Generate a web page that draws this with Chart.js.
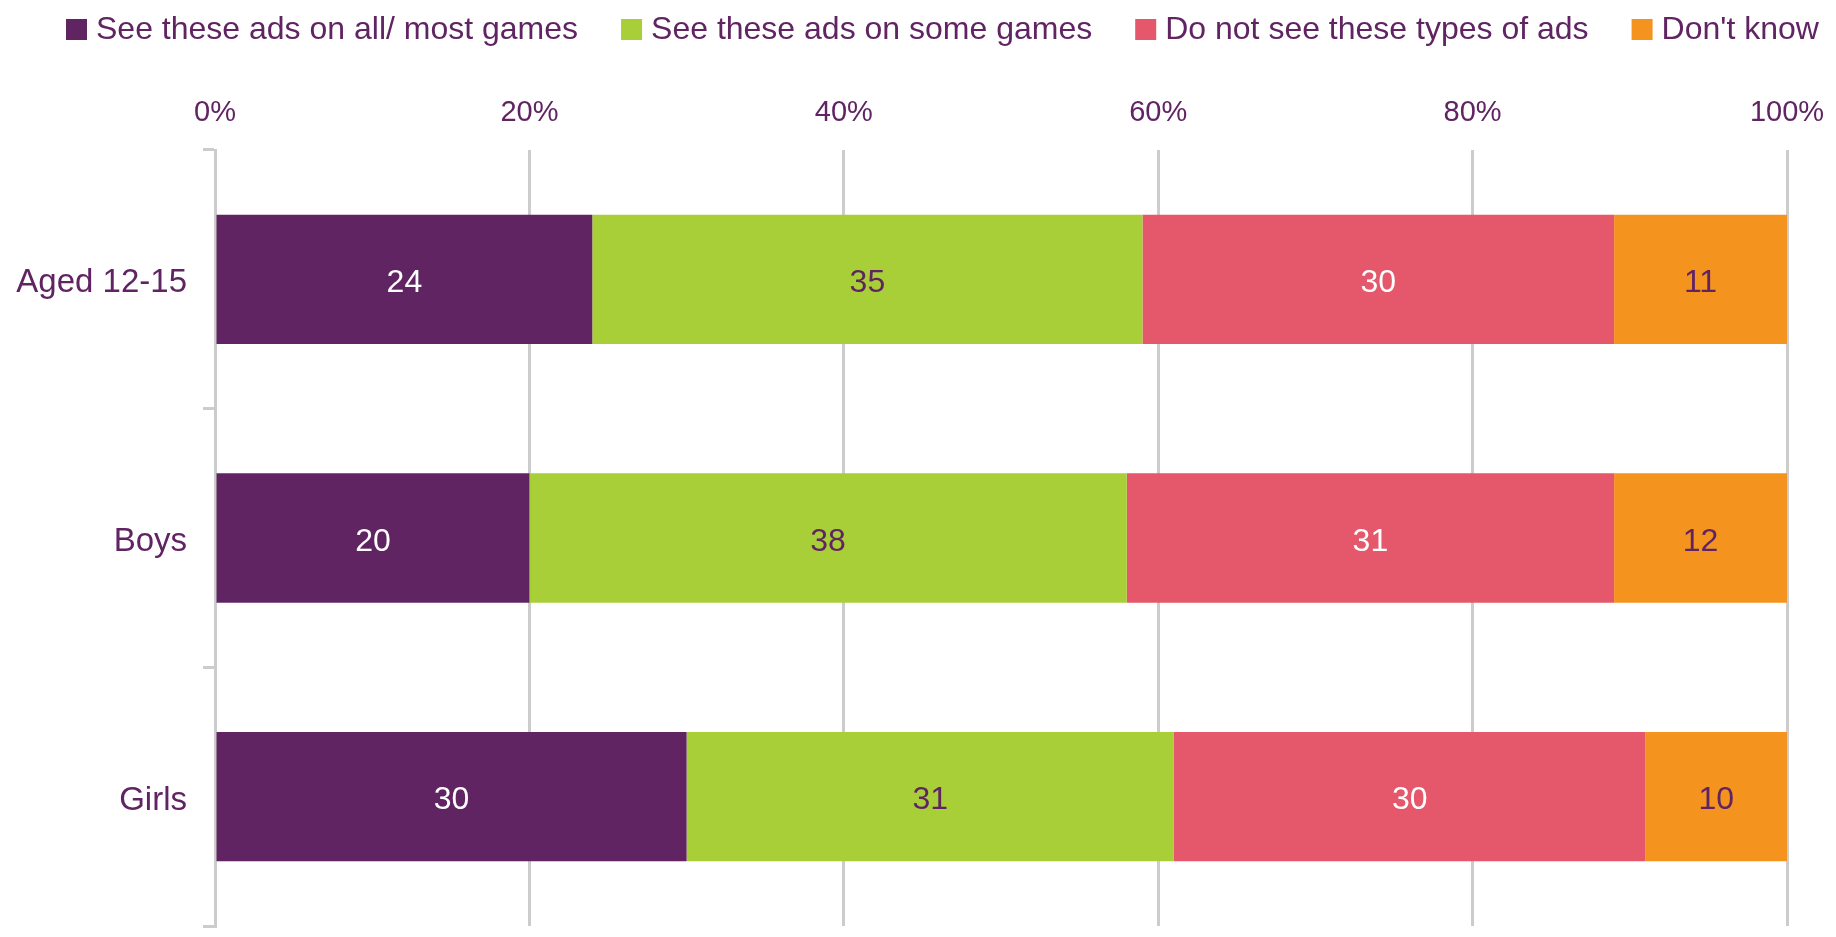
<!DOCTYPE html>
<html>
<head>
<meta charset="utf-8">
<title>Ads seen in games</title>
<script src="https://cdn.jsdelivr.net/npm/chart.js@4.4.1/dist/chart.umd.min.js"></script>
<style>
    html, body { margin: 0; padding: 0; background: #ffffff; }
    #adsChart { display: block; }
</style>
</head>
<body>
<canvas id="adsChart" width="1836" height="937"></canvas>
<script>
/* ── DATA ────────────────────────────────────────────────── */
const groups = ['Aged 12-15', 'Boys', 'Girls'];
const seriesNames = [
    'See these ads on all/ most games',
    'See these ads on some games',
    'Do not see these types of ads',
    "Don't know"
];
const allMost  = [24, 20, 30];
const someGames = [35, 38, 31];
const notSeen  = [30, 31, 30];
const dontKnow = [11, 12, 10];
const xTicks   = [0, 20, 40, 60, 80, 100];

/* ── STYLE ───────────────────────────────────────────────── */
const FONT = "'Liberation Sans', Arial, sans-serif";
const PURPLE = '#612463';
const GRID = '#cccccc';
const SERIES_COLORS = ['#612463', '#a8cf38', '#e5576a', '#f5931f'];
const VALUE_COLORS  = ['#ffffff', PURPLE, '#ffffff', PURPLE];

/* ── LEGEND ACROSS THE TOP ───────────────────────────────── */
const topLegend = {
    id: 'topLegend',
    afterDraw(chart) {
        const ctx = chart.ctx;
        ctx.save();
        ctx.font = `32px ${FONT}`;
        ctx.textBaseline = 'middle';
        let x = 66;
        chart.data.datasets.forEach(ds => {
            ctx.fillStyle = ds.backgroundColor;
            ctx.fillRect(x, 19, 21, 21);
            ctx.fillStyle = PURPLE;
            ctx.fillText(ds.label, x + 30, 30);
            x += 30 + ctx.measureText(ds.label).width + 43;
        });
        ctx.restore();
    }
};

/* ── VALUE IN THE MIDDLE OF EACH SEGMENT ─────────────────── */
const barValues = {
    id: 'barValues',
    afterDatasetsDraw(chart) {
        const { ctx, chartArea } = chart;
        ctx.save();
        ctx.font = `32px ${FONT}`;
        ctx.textAlign = 'center';
        ctx.textBaseline = 'middle';
        chart.data.datasets.forEach((ds, i) => {
            chart.getDatasetMeta(i).data.forEach((bar, j) => {
                // segments that run past 100% are clipped, so centre on the visible part
                const l = Math.max(Math.min(bar.x, bar.base), chartArea.left);
                const r = Math.min(Math.max(bar.x, bar.base), chartArea.right);
                ctx.fillStyle = VALUE_COLORS[i];
                ctx.fillText(String(ds.data[j]), (l + r) / 2, bar.y + 4);
            });
        });
        ctx.restore();
    }
};

const seriesData = [allMost, someGames, notSeen, dontKnow];

new Chart(document.getElementById('adsChart').getContext('2d'), {
    type: 'bar',
    data: {
        labels: groups,
        datasets: seriesNames.map((name, i) => ({
            label: name,
            data: seriesData[i],
            backgroundColor: SERIES_COLORS[i],
            borderWidth: 0,
            categoryPercentage: 1,
            barPercentage: 0.5
        }))
    },
    options: {
        indexAxis: 'y',
        responsive: false,
        animation: false,
        devicePixelRatio: 1,
        layout: { padding: { top: 95, right: 49, bottom: 11, left: 0 } },
        plugins: {
            legend: { display: false },
            tooltip: { enabled: false }
        },
        scales: {
            x: {
                position: 'top',
                stacked: true,
                min: xTicks[0],
                max: xTicks[xTicks.length - 1],
                afterBuildTicks(scale) { scale.ticks = xTicks.map(v => ({ value: v })); },
                ticks: {
                    color: PURPLE,
                    font: { family: FONT, size: 29 },
                    padding: 20,
                    callback: v => v + '%'
                },
                grid: { color: GRID, lineWidth: 3, drawTicks: false },
                border: { display: false },
                afterFit(scale) {
                    scale.paddingLeft = 0;
                    scale.paddingRight = 0;
                    scale.height = 55;
                }
            },
            y: {
                stacked: true,
                ticks: {
                    color: PURPLE,
                    font: { family: FONT, size: 33 },
                    padding: 16,
                    labelOffset: 4
                },
                grid: {
                    offset: true,
                    drawOnChartArea: false,
                    color: GRID,
                    lineWidth: 3,
                    tickLength: 12
                },
                border: { color: GRID, width: 3 },
                afterFit(scale) {
                    scale.paddingTop = 0;
                    scale.paddingBottom = 0;
                    scale.width = 215;
                }
            }
        }
    },
    plugins: [topLegend, barValues]
});
</script>
</body>
</html>
